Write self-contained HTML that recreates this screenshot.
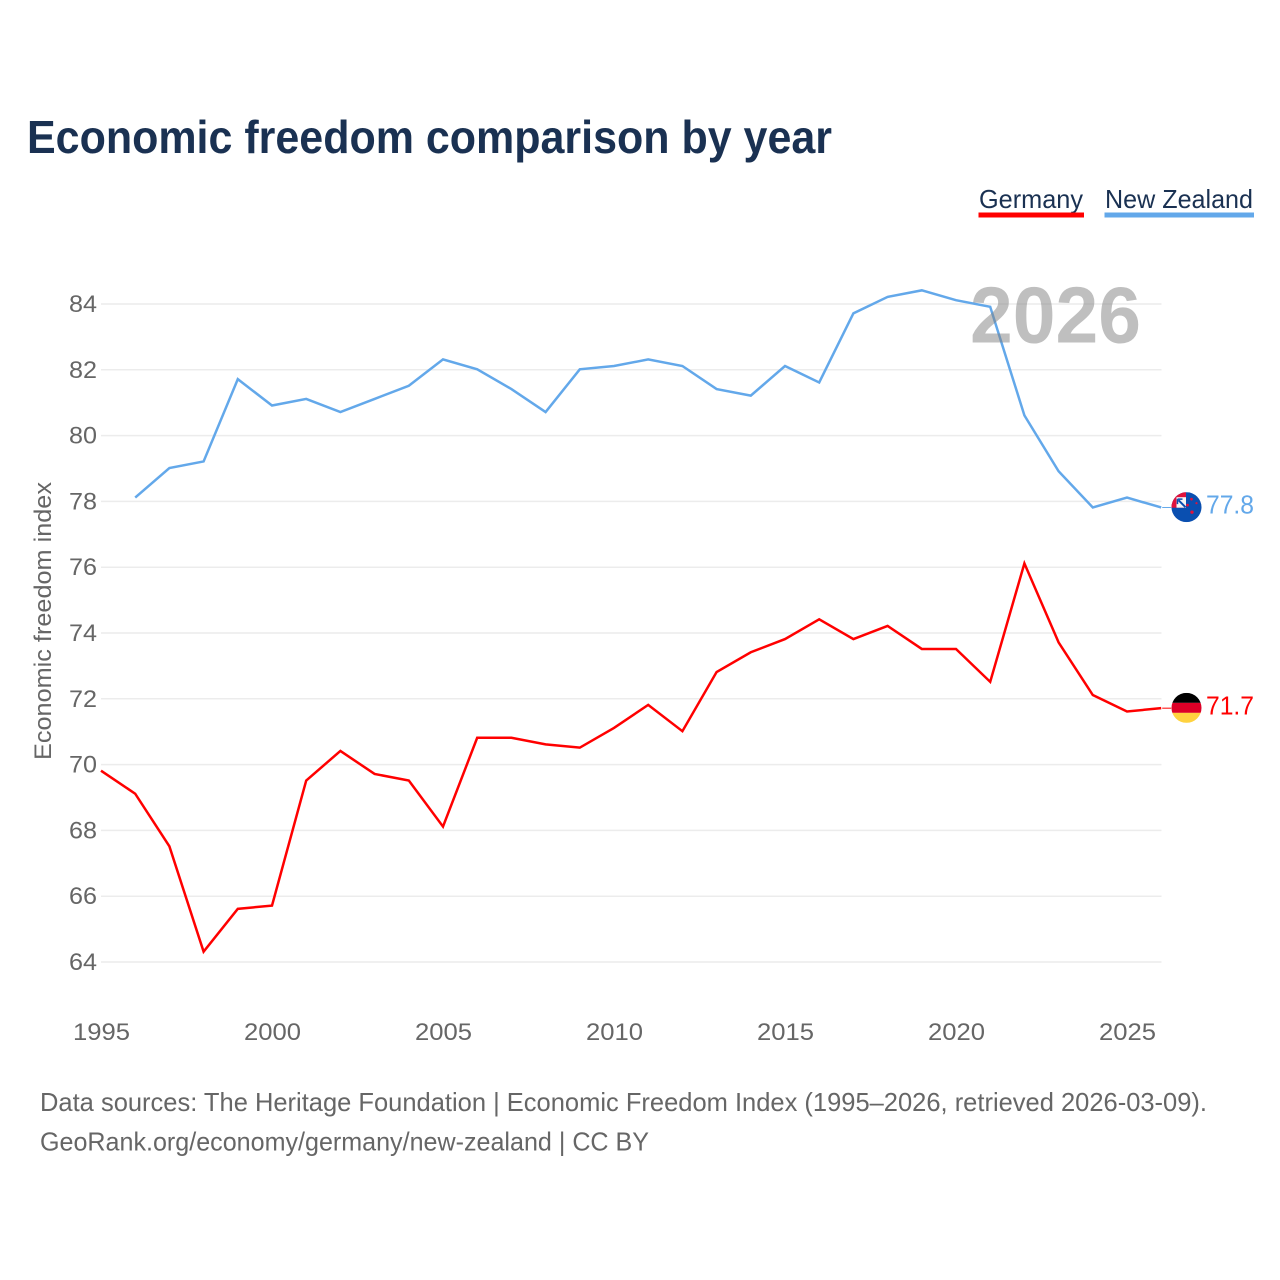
<!DOCTYPE html>
<html lang="en">
<head>
<meta charset="utf-8">
<title>Economic freedom comparison by year</title>
<style>
html,body{margin:0;padding:0;background:#fff;width:1280px;height:1280px;overflow:hidden}
svg{display:block;font-family:"Liberation Sans",sans-serif}
</style>
</head>
<body>
<svg id="chart" width="1280" height="1280" viewBox="0 0 1280 1280" xmlns="http://www.w3.org/2000/svg">
  <defs>
    <clipPath id="flag-clip"><circle cx="0" cy="0" r="15"></circle></clipPath>
  </defs>
  <rect width="1280" height="1280" fill="#ffffff"></rect>
  <text x="27" y="153" font-size="46" font-weight="700" fill="#1a3152" textLength="805" lengthAdjust="spacingAndGlyphs">Economic freedom comparison by year</text>

  <g style="cursor:pointer">
    <text x="979" y="208" font-size="26" fill="#1a3152" textLength="104" lengthAdjust="spacingAndGlyphs">Germany</text>
    <rect x="978.5" y="212.5" width="105.5" height="5" fill="#ff0000"></rect>
  </g>
  <g style="cursor:pointer">
    <text x="1105" y="208" font-size="26" fill="#1a3152" textLength="148" lengthAdjust="spacingAndGlyphs">New Zealand</text>
    <rect x="1104.5" y="212.5" width="149.5" height="5" fill="#63a8ea"></rect>
  </g>

  <g id="grid"></g>
  <g id="y-axis"></g>
  <g id="x-axis"></g>
  <text transform="translate(51,760) rotate(-90)" x="0" y="0" font-size="24" fill="#666666" textLength="278" lengthAdjust="spacingAndGlyphs">Economic freedom index</text>

  <g id="series" transform="translate(0,-0.5)"></g>

  <text x="970" y="342.5" font-size="80" font-weight="700" fill="#7f7f7f" fill-opacity="0.5" textLength="171" lengthAdjust="spacingAndGlyphs">2026</text>

  <g id="flag-nz">
    <g clip-path="url(#flag-clip)">
      <rect x="-15" y="-15" width="30" height="30" fill="#0a4fb0"></rect>
      <rect x="-15" y="-15" width="14.5" height="15.5" fill="#e0123c"></rect>
      <rect x="-10" y="-10" width="9.5" height="10.5" fill="#f6f6f6"></rect>
      <path d="M-8 -7L-1 0" stroke="#0a4fb0" stroke-width="2"></path>
      <path d="M-9 -8h5M-9 -8v5" stroke="#0a4fb0" stroke-width="1.5" fill="none"></path>
      <circle cx="5" cy="-8" r="1.4" fill="#e0123c"></circle>
      <circle cx="1" cy="-2" r="1.4" fill="#e0123c"></circle>
      <circle cx="10" cy="-4" r="1.1" fill="#e0123c"></circle>
      <circle cx="5.5" cy="5" r="1.7" fill="#e0123c"></circle>
    </g>
  </g>
  <g id="flag-de">
    <g clip-path="url(#flag-clip)">
      <rect x="-15" y="-15" width="30" height="10" fill="#000000"></rect>
      <rect x="-15" y="-5" width="30" height="10" fill="#dd0027"></rect>
      <rect x="-15" y="5" width="30" height="10" fill="#ffd23f"></rect>
    </g>
  </g>
  <text id="value-nz" x="1206" font-size="26" fill="#63a8ea" textLength="48" lengthAdjust="spacingAndGlyphs"></text>
  <text id="value-de" x="1206" font-size="26" fill="#ff0000" textLength="48" lengthAdjust="spacingAndGlyphs"></text>

  <text x="40" y="1111" font-size="26" fill="#666666" textLength="1167" lengthAdjust="spacingAndGlyphs">Data sources: The Heritage Foundation | Economic Freedom Index (1995–2026, retrieved 2026-03-09).</text>
  <text x="40" y="1150.5" font-size="26" fill="#666666" textLength="609" lengthAdjust="spacingAndGlyphs">GeoRank.org/economy/germany/new-zealand | CC BY</text>
</svg>
<script>
const years = [1995,1996,1997,1998,1999,2000,2001,2002,2003,2004,2005,2006,2007,2008,2009,2010,2011,2012,2013,2014,2015,2016,2017,2018,2019,2020,2021,2022,2023,2024,2025,2026];
const germany = [69.8,69.1,67.5,64.3,65.6,65.7,69.5,70.4,69.7,69.5,68.1,70.8,70.8,70.6,70.5,71.1,71.8,71.0,72.8,73.4,73.8,74.4,73.8,74.2,73.5,73.5,72.5,76.1,73.7,72.1,71.6,71.7];
const newZealand = [null,78.1,79.0,79.2,81.7,80.9,81.1,80.7,81.1,81.5,82.3,82.0,81.4,80.7,82.0,82.1,82.3,82.1,81.4,81.2,82.1,81.6,83.7,84.2,84.4,84.1,83.9,80.6,78.9,77.8,78.1,77.8];
const yTicks = [64,66,68,70,72,74,76,78,80,82,84];
const xTicks = [1995,2000,2005,2010,2015,2020,2025];

const NS = 'http://www.w3.org/2000/svg';
function xScale(year) { return 101 + (year - 1995) * (1060.2 / 31); }
function yScale(v) { return 304 + (84 - v) * 32.9; }

const grid = document.getElementById('grid');
const yAxis = document.getElementById('y-axis');
yTicks.forEach(function (t) {
  const line = document.createElementNS(NS, 'line');
  
  
  line.setAttribute('x1', 101);
  line.setAttribute('x2', 1161.5);
  line.setAttribute('y1', yScale(t));
  line.setAttribute('y2', yScale(t));
  line.setAttribute('stroke', '#ececec');
  line.setAttribute('stroke-width', '1.5');
  grid.appendChild(line);
  const label = document.createElementNS(NS, 'text');
  
  
  label.setAttribute('x', 69);
  label.setAttribute('y', yScale(t) + 8);
  label.setAttribute('font-size', '24');
  label.setAttribute('fill', '#666666');
  label.setAttribute('textLength', '28');
  label.setAttribute('lengthAdjust', 'spacingAndGlyphs');
  label.textContent = t;
  yAxis.appendChild(label);
});

const xAxis = document.getElementById('x-axis');
xTicks.forEach(function (t) {
  const label = document.createElementNS(NS, 'text');
  
  
  label.setAttribute('x', xScale(t) - 28);
  label.setAttribute('y', 1040);
  label.setAttribute('font-size', '24');
  label.setAttribute('fill', '#666666');
  label.setAttribute('textLength', '57');
  label.setAttribute('lengthAdjust', 'spacingAndGlyphs');
  label.textContent = t;
  xAxis.appendChild(label);
});

function pathFor(values) {
  let d = '';
  values.forEach(function (v, i) {
    if (v === null) return;
    d += (d === '' ? 'M' : 'L') + xScale(years[i]).toFixed(2) + ' ' + yScale(v).toFixed(2);
  });
  return d;
}
const series = document.getElementById('series');

const deLine = document.createElementNS(NS, 'path');


deLine.setAttribute('d', pathFor(germany));
deLine.setAttribute('fill', 'none');
deLine.setAttribute('stroke', '#ff0000');
deLine.setAttribute('stroke-width', '2.5');
series.appendChild(deLine);

const nzLine = document.createElementNS(NS, 'path');


nzLine.setAttribute('d', pathFor(newZealand));
nzLine.setAttribute('fill', 'none');
nzLine.setAttribute('stroke', '#63a8ea');
nzLine.setAttribute('stroke-width', '2.5');
series.appendChild(nzLine);

const deLast = germany[germany.length - 1];
const nzLast = newZealand[newZealand.length - 1];
const lastX = xScale(years[years.length - 1]);

const deConn = document.createElementNS(NS, 'line');


deConn.setAttribute('x1', lastX + 1);
deConn.setAttribute('x2', lastX + 10);
deConn.setAttribute('y1', yScale(deLast));
deConn.setAttribute('y2', yScale(deLast));
deConn.setAttribute('stroke', '#ff0000');
deConn.setAttribute('stroke-width', '1');
series.appendChild(deConn);

const nzConn = document.createElementNS(NS, 'line');


nzConn.setAttribute('x1', lastX + 1);
nzConn.setAttribute('x2', lastX + 10);
nzConn.setAttribute('y1', yScale(nzLast));
nzConn.setAttribute('y2', yScale(nzLast));
nzConn.setAttribute('stroke', '#63a8ea');
nzConn.setAttribute('stroke-width', '1');
series.appendChild(nzConn);

document.getElementById('flag-de').setAttribute('transform', 'translate(1186.5,' + (yScale(deLast) - 0.8) + ')');
document.getElementById('flag-nz').setAttribute('transform', 'translate(1186.5,' + (yScale(nzLast) - 0.8) + ')');

const deVal = document.getElementById('value-de');
deVal.setAttribute('y', yScale(deLast) + 6);
deVal.textContent = deLast.toFixed(1);
const nzVal = document.getElementById('value-nz');
nzVal.setAttribute('y', yScale(nzLast) + 5.5);
nzVal.textContent = nzLast.toFixed(1);
</script>
</body>
</html>
